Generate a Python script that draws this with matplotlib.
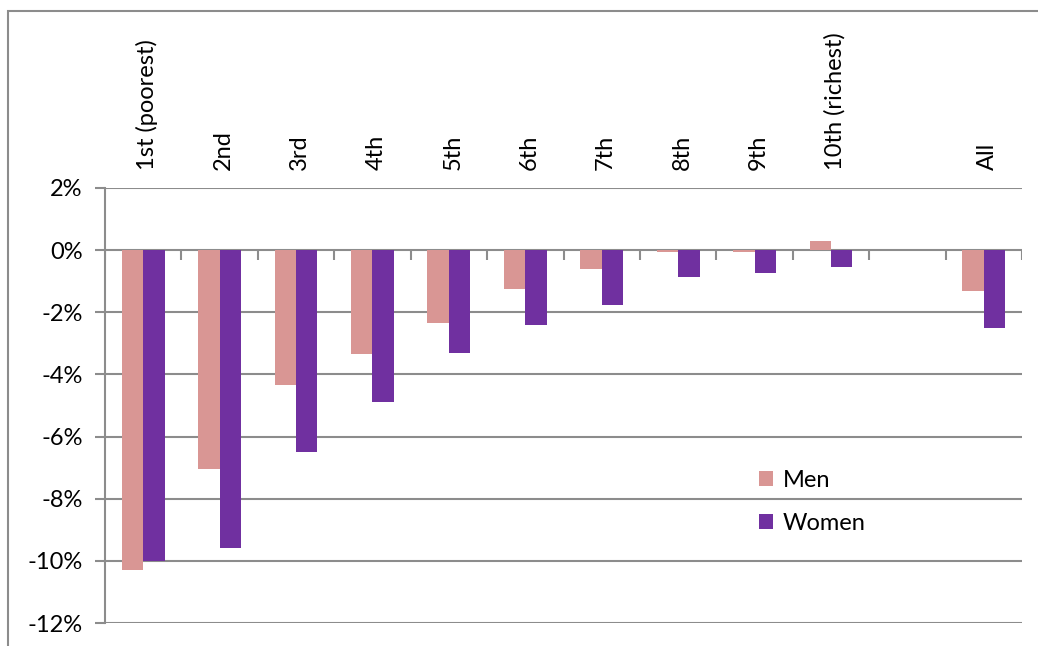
import matplotlib.pyplot as plt
import matplotlib.transforms as mtransforms
from matplotlib.patches import Rectangle
import numpy as np

categories = ["1st (poorest)", "2nd", "3rd", "4th", "5th", "6th", "7th", "8th",
              "9th", "10th (richest)", "", "All"]
men = [-10.3, -7.05, -4.35, -3.35, -2.35, -1.25, -0.6, -0.05, -0.07, 0.3, np.nan, -1.3]
women = [-10.0, -9.6, -6.5, -4.9, -3.3, -2.4, -1.75, -0.85, -0.72, -0.55, np.nan, -2.5]
yticks = [2, 0, -2, -4, -6, -8, -10, -12]

plt.rcParams["font.family"] = ["Lato", "DejaVu Sans"]
GRID = "#8c8c8c"
FS = 17

fig = plt.figure(figsize=(10.38, 6.46), dpi=100)
ax = fig.add_axes([105 / 1038, 1 - 623 / 646, 917 / 1038, 435 / 646])

# outer chart border (cut off at right and bottom, as in the source)
fig.patches.append(Rectangle((8 / 1038, -0.1), 1.2, 1.1 - 11 / 646,
                             transform=fig.transFigure, fill=False,
                             edgecolor=GRID, linewidth=1.5))

x = np.arange(len(categories))
w = 0.28
ax.bar(x - w / 2, men, w, color="#D99694", label="Men", zorder=3)
ax.bar(x + w / 2, women, w, color="#7030A0", label="Women", zorder=3)

ax.set_xlim(-0.5, len(categories) - 0.5)
ax.set_ylim(-12, 2)
ax.set_yticks(yticks)
ax.set_yticklabels([f"{v}%" for v in yticks], fontsize=FS)
for v in yticks:
    ax.axhline(v, color=GRID, linewidth=1.5, zorder=1)
# category boundary ticks on the zero line
ax.vlines(np.arange(len(categories) + 1) - 0.5, -0.32, 0, color=GRID,
          linewidth=1.5, zorder=2)

ax.set_xticks([])
for s in ["top", "right", "bottom"]:
    ax.spines[s].set_visible(False)
ax.spines["left"].set_color(GRID)
ax.spines["left"].set_linewidth(1.5)
ax.tick_params(axis="y", length=7, width=1.5, color=GRID, pad=9)

trans = mtransforms.offset_copy(
    mtransforms.blended_transform_factory(ax.transData, ax.transAxes),
    fig=fig, y=13, units="points")
for xi, lab in zip(x, categories):
    ax.text(xi + 0.05, 1, lab, rotation=90, ha="center", va="bottom",
            fontsize=FS, transform=trans)

ax.legend(loc="upper left", bbox_to_anchor=(0.69, 0.40), frameon=False,
          fontsize=FS, handlelength=0.6, handleheight=0.6, labelspacing=0.9,
          handletextpad=0.4)

fig.savefig("out.png", dpi=100)
